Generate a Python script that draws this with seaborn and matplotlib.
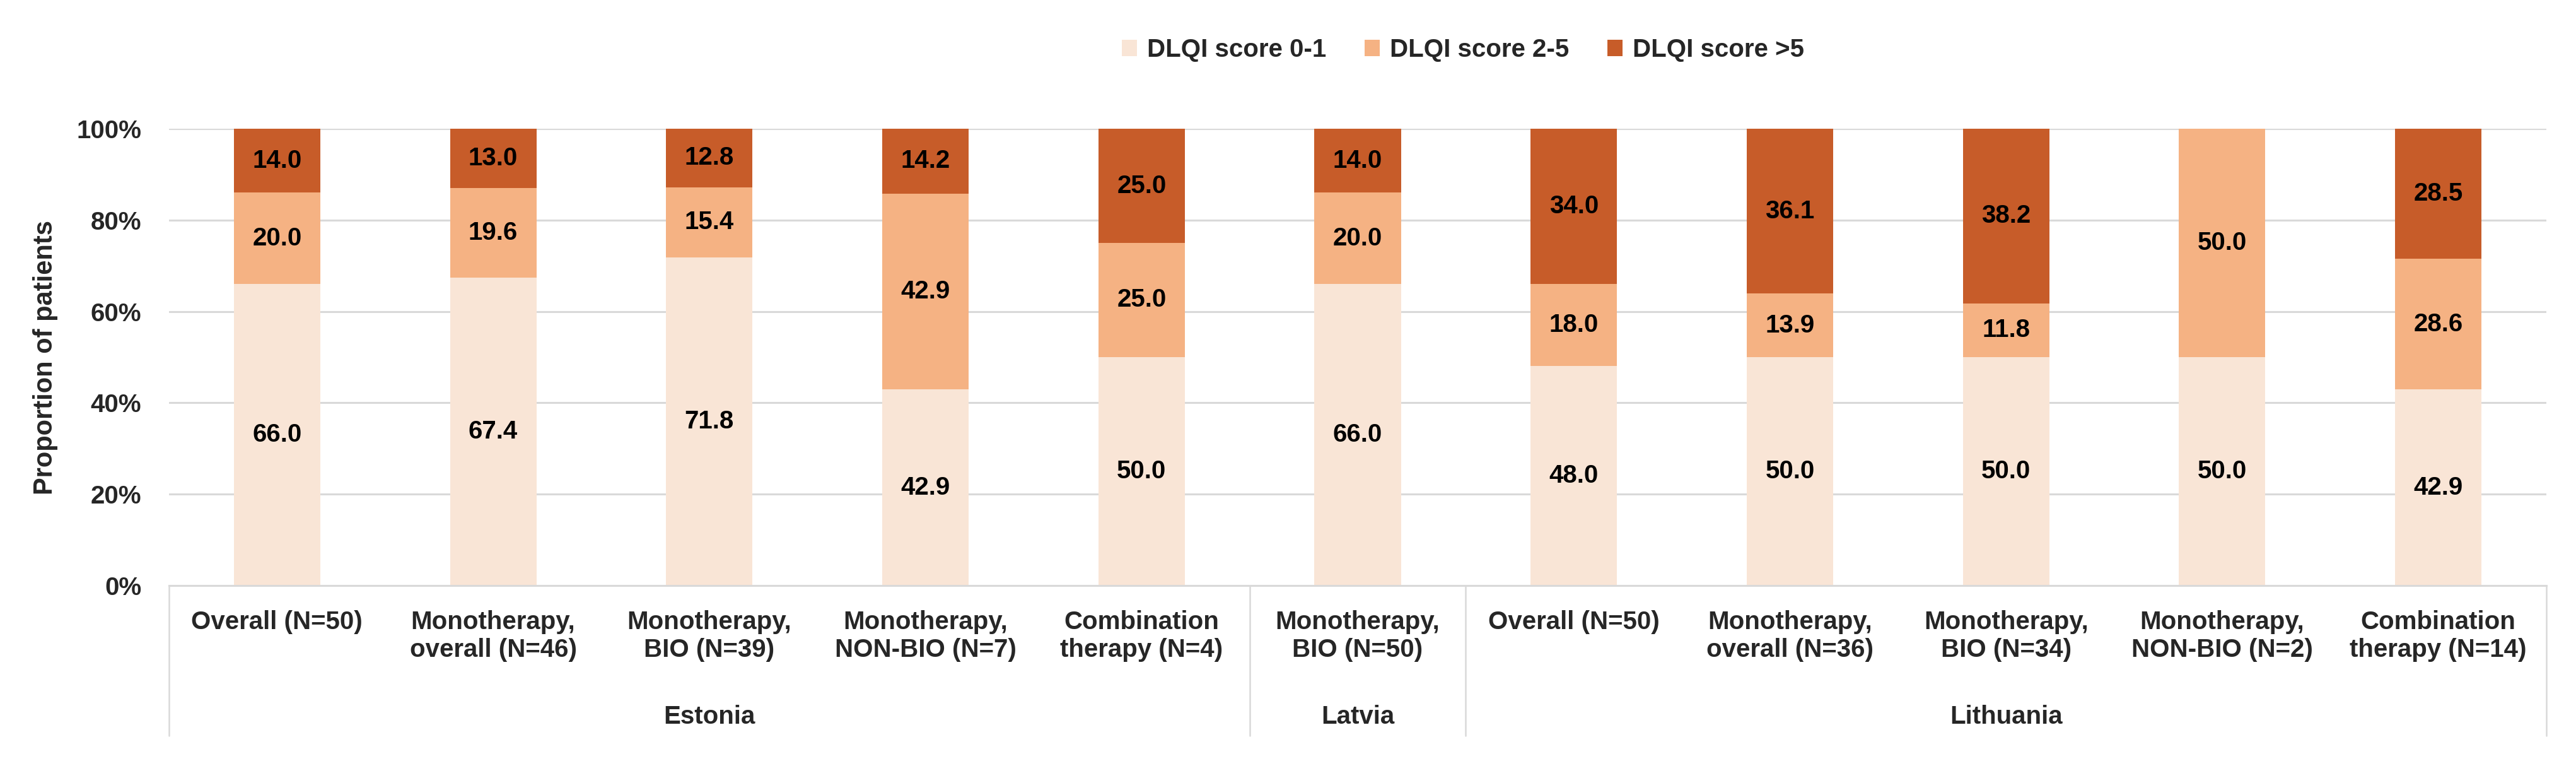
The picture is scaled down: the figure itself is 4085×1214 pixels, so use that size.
import matplotlib
matplotlib.use("Agg")
import matplotlib.pyplot as plt
import matplotlib.patches as mpatches
import seaborn as sns
import pandas as pd
import numpy as np

# ---- data ----
countries = ["Estonia", "Estonia", "Estonia", "Estonia", "Estonia",
             "Latvia",
             "Lithuania", "Lithuania", "Lithuania", "Lithuania", "Lithuania"]
categories = ["Overall (N=50)", "Monotherapy,\noverall (N=46)", "Monotherapy,\nBIO (N=39)",
              "Monotherapy,\nNON-BIO (N=7)", "Combination\ntherapy (N=4)",
              "Monotherapy,\nBIO (N=50)",
              "Overall (N=50)", "Monotherapy,\noverall (N=36)", "Monotherapy,\nBIO (N=34)",
              "Monotherapy,\nNON-BIO (N=2)", "Combination\ntherapy (N=14)"]
score_0_1 = [66.0, 67.4, 71.8, 42.9, 50.0, 66.0, 48.0, 50.0, 50.0, 50.0, 42.9]
score_2_5 = [20.0, 19.6, 15.4, 42.9, 25.0, 20.0, 18.0, 13.9, 11.8, 50.0, 28.6]
score_gt5 = [14.0, 13.0, 12.8, 14.2, 25.0, 14.0, 34.0, 36.1, 38.2, 0.0, 28.5]
series_names = ["DLQI score 0-1", "DLQI score 2-5", "DLQI score >5"]
y_ticks = [0, 20, 40, 60, 80, 100]
y_tick_labels = ["0%", "20%", "40%", "60%", "80%", "100%"]

colors = ["#F9E5D6", "#F5B283", "#C75C29"]

keys = [f"{c}|{k}" for c, k in zip(countries, categories)]
df = pd.DataFrame({
    "key": keys,
    "s1": score_0_1,
    "s2": score_2_5,
    "s3": score_gt5,
})
df["c1"] = df["s1"]
df["c2"] = df["s1"] + df["s2"]
df["c3"] = df["s1"] + df["s2"] + df["s3"]

sns.set_theme(style="white")
plt.rcParams["font.family"] = ["Liberation Sans", "DejaVu Sans"]
plt.rcParams["font.weight"] = "bold"

W, H = 4085, 1214
fig = plt.figure(figsize=(W / 100, H / 100), dpi=100)
ax = fig.add_axes([268 / W, 1 - 928 / H, 3770 / W, 724 / H])

FS = 29
grid_col = "#D9D9D9"

# horizontal gridlines
ax.set_ylim(0, 100)
ax.set_yticks(y_ticks)
ax.set_yticklabels(y_tick_labels, fontsize=FS, fontweight="bold")
ax.yaxis.grid(True, color=grid_col, linewidth=2.2, zorder=0)
ax.set_axisbelow(True)

# stacked bars via layered cumulative seaborn bars
for col, colr in zip(["c3", "c2", "c1"], colors[::-1]):
    sns.barplot(data=df, x="key", y=col, order=keys, color=colr, saturation=1,
                width=0.40, errorbar=None, linewidth=0, edgecolor="none", ax=ax, zorder=2)

ax.set_xlim(-0.5, len(keys) - 0.5)

# value labels
for i in range(len(keys)):
    bottoms = [0, df["c1"][i], df["c2"][i]]
    vals = [df["s1"][i], df["s2"][i], df["s3"][i]]
    for b, v in zip(bottoms, vals):
        if v > 0:
            ax.text(i, b + v / 2, f"{v:.1f}", ha="center", va="center",
                    fontsize=FS, fontweight="bold", color="black", zorder=5)

# axes styling
for s in ["top", "left", "right"]:
    ax.spines[s].set_visible(False)
ax.spines["bottom"].set_color(grid_col)
ax.spines["bottom"].set_linewidth(2.2)
ax.spines["bottom"].set_zorder(3)

ax.set_xticks(range(len(keys)))
ax.set_xticklabels(categories, fontsize=FS, fontweight="bold", linespacing=1.2)
ax.tick_params(axis="x", length=0, pad=28)
ax.tick_params(axis="y", length=0, pad=31.5)
ax.set_xlabel("")
ax.set_ylabel("Proportion of patients", fontsize=30, fontweight="bold")
ax.yaxis.set_label_coords(-0.0467, 0.5)

# group separators and group labels
trans = ax.get_xaxis_transform()
for xs in [-0.5, 4.5, 5.5, len(keys) - 0.5]:
    ax.plot([xs, xs], [0, -0.329], transform=trans, color=grid_col,
            linewidth=1.8, clip_on=False, zorder=1)
groups = []
for c in countries:
    if c not in groups:
        groups.append(c)
for g in groups:
    idx = [i for i, c in enumerate(countries) if c == g]
    ax.text(np.mean(idx), -0.287, g, transform=trans, ha="center", va="center",
            fontsize=FS, fontweight="bold")

# legend
handles = [mpatches.Patch(facecolor=c, edgecolor="none", label=n)
           for c, n in zip(colors, series_names)]
fig.legend(handles=handles, loc="center", bbox_to_anchor=(2320 / W, 1 - 79 / H),
           ncol=3, frameon=False, prop={"weight": "bold", "size": FS},
           handlelength=0.6, handleheight=0.6, handletextpad=0.4, columnspacing=1.5)

fig.savefig("out.png", dpi=100, facecolor="white")
